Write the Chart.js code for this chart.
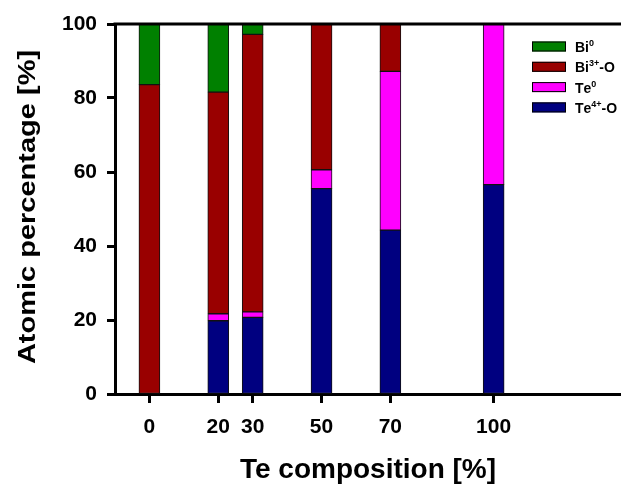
<!DOCTYPE html>
<html>
<head>
<meta charset="utf-8">
<script src="https://cdn.jsdelivr.net/npm/chart.js@4/dist/chart.umd.min.js"></script>
<style>
  body { margin: 0; background: #fff; }
  #wrap { width: 621px; height: 486px; }
</style>
</head>
<body>
<div id="wrap"><canvas id="myChart"></canvas></div>
<script>
// Te composition [%] of each sample
var compositions = [0, 20, 30, 50, 70, 100];
// atomic percentage of each species, per sample (null = absent)
var te4Values = [null, 19.8, 20.7, 55.5, 44.3, 56.6];
var te0Values = [null, 1.9, 1.5, 5.1, 42.9, 43.4];
var bi3Values = [83.6, 59.9, 75.0, 39.4, 12.8, null];
var bi0Values = [16.4, 18.4, 2.8, null, null, null];
var yTicks = [0, 20, 40, 60, 80, 100];
var yTitle = 'Atomic percentage [%]';

var FONT = "'Liberation Sans', Arial, sans-serif";

var toPoints = function (values) {
    return compositions.map(function (c, i) {
        return { x: c, y: values[i] };
    });
};

// draw label with superscript glyphs (⁰³⁴⁺) smaller and raised
var supMap = { '\u2070': '0', '\u00b3': '3', '\u2074': '4', '\u207a': '+' };
var drawRichText = function (ctx, text, x, y) {
    for (var i = 0; i < text.length; i++) {
        var ch = text[i];
        if (supMap[ch]) {
            ctx.font = 'bold 9px ' + FONT;
            ctx.fillText(supMap[ch], x, y - 6);
            x += ctx.measureText(supMap[ch]).width;
        } else {
            ctx.font = 'bold 14px ' + FONT;
            ctx.fillText(ch, x, y);
            x += ctx.measureText(ch).width;
        }
    }
};

var framePlugin = {
    id: 'frame',
    afterDraw: function (chart) {
        var ctx = chart.ctx;
        var area = chart.chartArea;
        ctx.save();
        // top frame line
        ctx.strokeStyle = '#000';
        ctx.lineWidth = 3;
        ctx.beginPath();
        ctx.moveTo(area.left - 1.5, area.top);
        ctx.lineTo(area.right, area.top);
        ctx.stroke();

        // y title, drawn by hand so it can be squeezed like the original
        ctx.save();
        ctx.translate(28, (area.top + area.bottom) / 2 - 2);
        ctx.rotate(-Math.PI / 2);
        ctx.scale(1, 0.82);
        ctx.font = 'bold 29px ' + FONT;
        ctx.fillStyle = '#000';
        ctx.textAlign = 'center';
        ctx.textBaseline = 'middle';
        ctx.fillText(yTitle, 0, 0);
        ctx.restore();

        // legend inside the plot, top-right, listed top species first
        var items = chart.data.datasets.slice().reverse();
        var bx = area.right - 89;
        items.forEach(function (ds, i) {
            var by = area.top + 17.5 + i * 20.3;
            ctx.fillStyle = ds.backgroundColor;
            ctx.fillRect(bx, by, 34, 10);
            ctx.lineWidth = 1;
            ctx.strokeStyle = '#000';
            ctx.strokeRect(bx + 0.5, by + 0.5, 33, 9);
            ctx.fillStyle = '#000';
            ctx.textAlign = 'left';
            ctx.textBaseline = 'alphabetic';
            drawRichText(ctx, ds.label, bx + 43, by + 10.5);
        });
        ctx.restore();
    }
};

var makeSet = function (label, values, color) {
    return {
        label: label,
        data: toPoints(values),
        backgroundColor: color,
        borderColor: '#111',
        borderWidth: 1,
        borderSkipped: false,
        barThickness: 21
    };
};

var ctx = document.getElementById('myChart').getContext('2d');

var chart = new Chart(ctx, {
    type: 'bar',
    data: {
        datasets: [
            makeSet('Te\u2074\u207a-O', te4Values, '#000080'),
            makeSet('Te\u2070', te0Values, '#ff00ff'),
            makeSet('Bi\u00b3\u207a-O', bi3Values, '#990000'),
            makeSet('Bi\u2070', bi0Values, '#008000')
        ]
    },
    options: {
        responsive: true,
        maintainAspectRatio: false,
        animation: false,
        layout: { padding: { top: 24, right: 0, left: 0, bottom: 0 } },
        plugins: {
            legend: { display: false },
            tooltip: { enabled: false }
        },
        scales: {
            x: {
                type: 'linear',
                stacked: true,
                offset: false,
                min: -10,
                max: 137,
                afterBuildTicks: function (scale) {
                    scale.ticks = compositions.map(function (v) { return { value: v }; });
                },
                afterFit: function (scale) { scale.height = 92; },
                grid: {
                    offset: false,
                    drawOnChartArea: false,
                    tickLength: 9,
                    tickWidth: 3,
                    tickColor: '#000'
                },
                border: { display: true, width: 3, color: '#000' },
                ticks: {
                    autoSkip: false,
                    maxRotation: 0,
                    padding: 12,
                    color: '#000',
                    font: { family: FONT, size: 21, weight: 'bold' },
                    callback: function (v) { return v; }
                },
                title: {
                    display: true,
                    text: 'Te composition [%]',
                    color: '#000',
                    font: { family: FONT, size: 28, weight: 'bold', lineHeight: 1 },
                    padding: { top: 0, bottom: 2 }
                }
            },
            y: {
                stacked: true,
                min: 0,
                max: 100,
                afterBuildTicks: function (scale) {
                    scale.ticks = yTicks.map(function (v) { return { value: v }; });
                },
                afterFit: function (scale) { scale.width = 115; },
                grid: {
                    drawOnChartArea: false,
                    tickLength: 8,
                    tickWidth: 3,
                    tickColor: '#000'
                },
                border: { display: true, width: 3, color: '#000' },
                ticks: {
                    padding: 10,
                    color: '#000',
                    font: { family: FONT, size: 21, weight: 'bold' }
                },
                title: { display: false }
            }
        }
    },
    plugins: [framePlugin]
});
</script>
</body>
</html>
